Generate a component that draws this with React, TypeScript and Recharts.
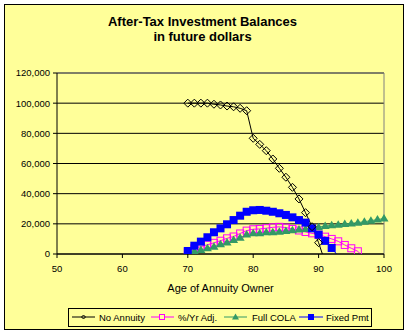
import React from "react";
import { CartesianGrid, Line, LineChart, ReferenceLine, XAxis, YAxis } from "recharts";

const ages = [
  70, 71, 72, 73, 74, 75, 76, 77, 78, 79, 80, 81, 82, 83, 84, 85,
  86, 87, 88, 89, 90, 91, 92, 93, 94, 95, 96, 97, 98, 99, 100
];
const noAnnuity = [
  100000, 100000, 100000, 100000, 99300, 98800, 98100, 97600, 96600, 95000, 76700,
  72700, 68500, 63000, 56800, 50900, 44200, 36500, 27400, 18100, 7500, -5500
];
const pctAdj = [
  1500, 3800, 4900, 6100, 7400, 8800, 10400, 11600, 13600, 15500, 16400, 16600,
  17100, 17700, 18000, 17500, 16600, 15600, 14600, 13700, 12800, 11500, 10000,
  8400, 6000, 3800, 1800, -3000
];
const fullCola = [
  500, 1800, 2700, 3800, 4800, 6400, 7700, 9300, 10800, 13000, 13700, 13700, 14400,
  14400, 14800, 15200, 15800, 16200, 16600, 17200, 17800, 18500, 19000, 19400,
  19900, 20300, 20800, 21400, 22100, 22800, 23500
];
const fixedPmt = [
  2000, 5500, 8200, 11100, 14400, 17000, 19700, 22500, 25400, 28000, 29000, 29200,
  28700, 28000, 27000, 25900, 24300, 22500, 20800, 17000, 12800, 8700, 4000, -1500
];
const xTicks = [50, 60, 70, 80, 90, 100];
const yTicks = [0, 20000, 40000, 60000, 80000, 100000, 120000];

const rows = ages.map((age, i) => ({
  age,
  noAnnuity: noAnnuity[i] ?? null,
  pctAdj: pctAdj[i] ?? null,
  fullCola: fullCola[i] ?? null,
  fixedPmt: fixedPmt[i] ?? null
}));

const font = "'Liberation Sans', Arial, sans-serif";
const yellow = "#FFFF99";
const magenta = "#FF00FF";
const green = "#339966";
const blue = "#0000FF";

// markers for points that fall below zero are not drawn (Excel clips them)
const hidden = (p: any) => p.value == null || p.cx == null || p.cy == null || p.value < 0;

const diamondDot = (p: any) => {
  if (hidden(p)) return <g key={`nd${p.index}`} />;
  const { cx, cy } = p;
  return (
    <path key={`nd${p.index}`} d={`M${cx},${cy - 4}L${cx + 4},${cy}L${cx},${cy + 4}L${cx - 4},${cy}Z`}
      fill="none" stroke="#000" strokeWidth={1} />
  );
};

const hollowSquare = (p: any) => {
  if (hidden(p)) return <g key={`ps${p.index}`} />;
  return <rect key={`ps${p.index}`} x={p.cx - 3.5} y={p.cy - 3.5} width={7} height={7} fill="none" stroke={magenta} />;
};

const triangleDot = (p: any) => {
  if (hidden(p)) return <g key={`ft${p.index}`} />;
  const { cx, cy } = p;
  return <path key={`ft${p.index}`} d={`M${cx},${cy - 4.5}L${cx + 4.5},${cy + 3}L${cx - 4.5},${cy + 3}Z`} fill={green} />;
};

const blueSquare = (p: any) => {
  if (hidden(p)) return <g key={`bs${p.index}`} />;
  return <rect key={`bs${p.index}`} x={p.cx - 4} y={p.cy - 4} width={8} height={8} fill={blue} />;
};

function Overlay() {
  return (
    <svg width={408} height={336} style={{ position: "absolute", left: 0, top: 0, pointerEvents: "none" }}>
      <g fontFamily={font} fill="#000">
        <text x={202.5} y={26} textAnchor="middle" fontSize={13} fontWeight="bold">After-Tax Investment Balances</text>
        <text x={202.5} y={41} textAnchor="middle" fontSize={13} fontWeight="bold">in future dollars</text>
        <text x={220.5} y={291.5} textAnchor="middle" fontSize={11}>Age of Annuity Owner</text>
      </g>
      <rect x={68.5} y={308.5} width={303} height={18} fill={yellow} stroke="#000" />
      <g fontFamily={font} fontSize={9.5} fill="#000">
        <line x1={72} y1={317} x2={95} y2={317} stroke="#000" />
        <path d="M83.5,315L85.5,317L83.5,319L81.5,317Z" fill="none" stroke="#000" />
        <text x={99} y={320.5}>No Annuity</text>
        <line x1={151} y1={317} x2={174} y2={317} stroke={magenta} />
        <rect x={159.5} y={314.5} width={5} height={5} fill={yellow} stroke={magenta} />
        <text x={178} y={320.5}>%/Yr Adj.</text>
        <line x1={224} y1={317} x2={247} y2={317} stroke={green} />
        <path d="M235.5,313.5L239,319.5L232,319.5Z" fill={green} />
        <text x={252} y={320.5}>Full COLA</text>
        <line x1={299} y1={317} x2={323} y2={317} stroke={blue} />
        <rect x={308} y={314} width={6} height={6} fill={blue} />
        <text x={326} y={320.5}>Fixed Pmt</text>
      </g>
    </svg>
  );
}

export default function App() {
  return (
    <div style={{ position: "absolute", left: 0, top: 0, width: 408, height: 336, background: "#fff" }}>
      <div style={{ position: "absolute", left: 4, top: 4, width: 400, height: 326, boxSizing: "border-box", border: "1px solid #000", background: yellow }} />
      <div style={{ position: "absolute", left: 0, top: 0 }}>
        <LineChart width={408} height={336} data={rows} margin={{ top: 73, right: 24, bottom: 52, left: 7 }}>
          <CartesianGrid vertical={false} stroke="#000" />
          <XAxis dataKey="age" type="number" domain={[50, 100]} ticks={xTicks} height={30}
            tick={{ fill: "#000", fontSize: 9.5, fontFamily: font }} tickSize={4} tickMargin={7}
            axisLine={{ stroke: "#000" }} tickLine={{ stroke: "#000" }} />
          <YAxis type="number" domain={[0, 120000]} ticks={yTicks} width={50} allowDataOverflow
            tickFormatter={(v: number) => v.toLocaleString("en-US")}
            tick={{ fill: "#000", fontSize: 9.5, fontFamily: font }} tickSize={4} tickMargin={3}
            axisLine={{ stroke: "#000" }} tickLine={{ stroke: "#000" }} />
          <ReferenceLine y={120000} stroke="#808080" />
          <ReferenceLine x={100} stroke="#808080" />
          <Line dataKey="pctAdj" stroke={magenta} strokeWidth={1} dot={hollowSquare} activeDot={false} isAnimationActive={false} />
          <Line dataKey="fullCola" stroke={green} strokeWidth={1} dot={triangleDot} activeDot={false} isAnimationActive={false} />
          <Line dataKey="fixedPmt" stroke={blue} strokeWidth={1} dot={blueSquare} activeDot={false} isAnimationActive={false} />
          <Line dataKey="noAnnuity" stroke="#000" strokeWidth={1} dot={diamondDot} activeDot={false} isAnimationActive={false} />
        </LineChart>
      </div>
      <Overlay />
    </div>
  );
}
